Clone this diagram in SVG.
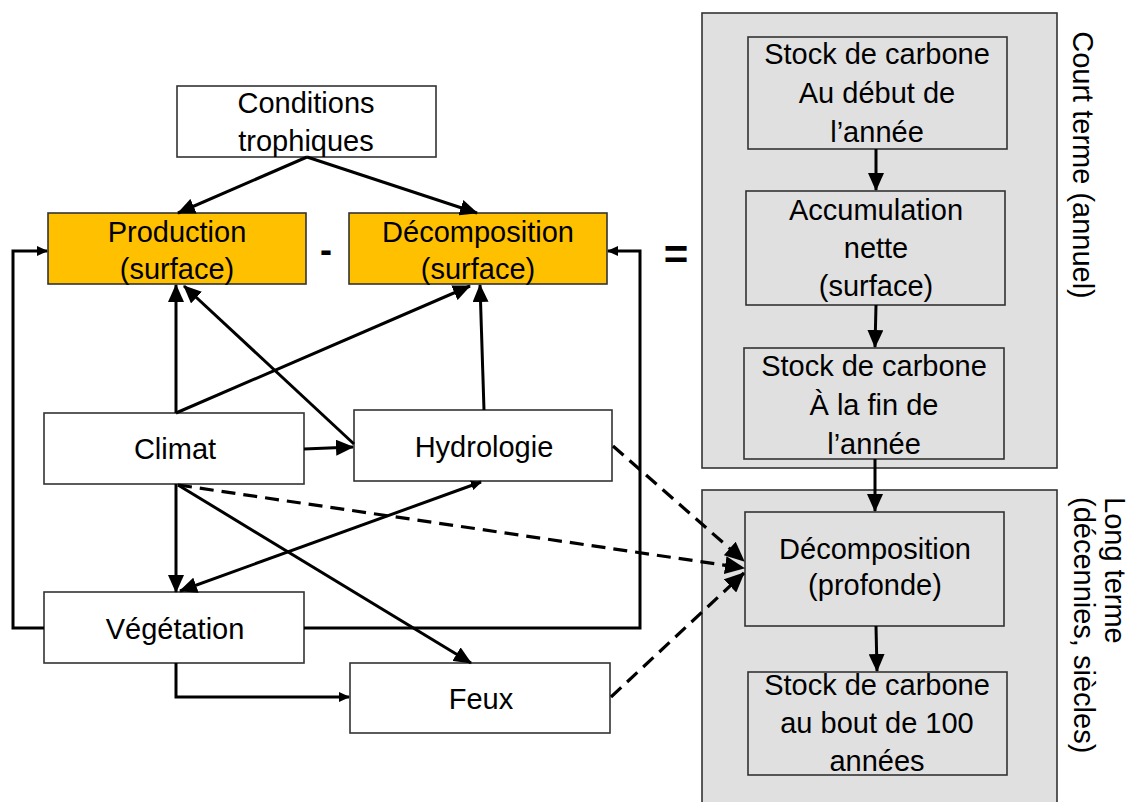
<svg xmlns="http://www.w3.org/2000/svg" width="1134" height="802" viewBox="0 0 1134 802">
<style>
  .t { font-family: "Liberation Sans", Arial, sans-serif; font-size: 29px; fill: #000; text-anchor: middle; }
  .box { fill: #fff; stroke: #333; stroke-width: 1.6; }
  .org { fill: #FFC000; stroke: #333; stroke-width: 1.6; }
  .gry { fill: #E0E0E0; stroke: #333; stroke-width: 1.6; }
  .c { fill: none; stroke: #000; stroke-width: 3; }
  .d { fill: none; stroke: #000; stroke-width: 3.2; stroke-dasharray: 14 8; }
  .op { font-family: "Liberation Sans", Arial, sans-serif; font-weight: bold; fill: #000; text-anchor: middle; }
</style>
<defs>
  <marker id="ah" viewBox="0 0 18 16" refX="17" refY="8" markerWidth="18" markerHeight="16" markerUnits="userSpaceOnUse" orient="auto"><path d="M0,0 L18,8 L0,16 z" fill="#000"/></marker>
  <marker id="as" viewBox="0 0 11 10" refX="10" refY="5" markerWidth="11" markerHeight="10" markerUnits="userSpaceOnUse" orient="auto"><path d="M0,0 L11,5 L0,10 z" fill="#000"/></marker>
  <marker id="asr" viewBox="0 0 11 10" refX="10" refY="5" markerWidth="11" markerHeight="10" markerUnits="userSpaceOnUse" orient="auto-start-reverse"><path d="M0,0 L11,5 L0,10 z" fill="#000"/></marker>
  <marker id="ad" viewBox="0 0 20 18" refX="19" refY="9" markerWidth="20" markerHeight="18" markerUnits="userSpaceOnUse" orient="auto"><path d="M0,0 L20,9 L0,18 z" fill="#000"/></marker>
</defs>

<g id="panel-court">
  <rect class="gry" x="702" y="13" width="355" height="455"/>
</g>
<g id="panel-long">
  <rect class="gry" x="702" y="490" width="355" height="320"/>
</g>

<g id="n-conditions">
  <rect class="box" x="177" y="86" width="259" height="71"/>
  <text class="t" x="306" y="113">Conditions</text>
  <text class="t" x="306" y="151">trophiques</text>
</g>
<g id="n-production">
  <rect class="org" x="48" y="213" width="258" height="71"/>
  <text class="t" x="177" y="242">Production</text>
  <text class="t" x="177" y="279">(surface)</text>
</g>
<g id="n-decomposition">
  <rect class="org" x="349" y="213" width="258" height="71"/>
  <text class="t" x="478" y="242">Décomposition</text>
  <text class="t" x="478" y="279">(surface)</text>
</g>
<g id="op-minus"><text class="op" x="326" y="262" font-size="36">-</text></g>
<g id="op-equal"><text class="op" x="676" y="269" font-size="42">=</text></g>

<g id="n-climat">
  <rect class="box" x="44" y="413" width="260" height="71"/>
  <text class="t" x="175" y="459">Climat</text>
</g>
<g id="n-hydrologie">
  <rect class="box" x="354" y="410" width="258" height="71"/>
  <text class="t" x="484" y="457">Hydrologie</text>
</g>
<g id="n-vegetation">
  <rect class="box" x="44" y="592" width="260" height="71"/>
  <text class="t" x="175" y="639">Végétation</text>
</g>
<g id="n-feux">
  <rect class="box" x="350" y="663" width="260" height="70"/>
  <text class="t" x="481" y="709">Feux</text>
</g>

<g id="n-stock-debut">
  <rect class="gry" x="748" y="37" width="259" height="112"/>
  <text class="t" x="877" y="64">Stock de carbone</text>
  <text class="t" x="877" y="103">Au début de</text>
  <text class="t" x="877" y="142">l’année</text>
</g>
<g id="n-accumulation">
  <rect class="gry" x="746" y="191" width="259" height="114"/>
  <text class="t" x="876" y="220">Accumulation</text>
  <text class="t" x="876" y="258">nette</text>
  <text class="t" x="876" y="296">(surface)</text>
</g>
<g id="n-stock-fin">
  <rect class="gry" x="744" y="348" width="260" height="111"/>
  <text class="t" x="874" y="376">Stock de carbone</text>
  <text class="t" x="874" y="415">À la fin de</text>
  <text class="t" x="874" y="454">l’année</text>
</g>
<g id="n-decomp-profonde">
  <rect class="gry" x="745" y="512" width="259" height="114"/>
  <text class="t" x="875" y="559">Décomposition</text>
  <text class="t" x="875" y="595">(profonde)</text>
</g>
<g id="n-stock-100">
  <rect class="gry" x="748" y="672" width="259" height="103"/>
  <text class="t" x="877" y="695">Stock de carbone</text>
  <text class="t" x="877" y="733">au bout de 100</text>
  <text class="t" x="877" y="771">années</text>
</g>

<g id="lbl-court">
  <text class="t" font-size="30" transform="translate(1073,165) rotate(90)" x="0" y="0">Court terme (annuel)</text>
</g>
<g id="lbl-long">
  <text class="t" font-size="30" style="text-anchor:start" transform="translate(1105,497) rotate(90)" x="0" y="0">Long terme</text>
  <text class="t" font-size="30" style="text-anchor:start" transform="translate(1074,497) rotate(90)" x="0" y="0">(décennies, siècles)</text>
</g>

<g id="connectors">
  <line class="c" x1="307" y1="157" x2="178" y2="213" marker-end="url(#ah)"/>
  <line class="c" x1="307" y1="157" x2="477" y2="213" marker-end="url(#ah)"/>
  <line class="c" x1="176" y1="413" x2="176" y2="285" marker-end="url(#ah)"/>
  <line class="c" x1="176" y1="413" x2="470" y2="286" marker-end="url(#ah)"/>
  <line class="c" x1="354" y1="444" x2="184" y2="286" marker-end="url(#ah)"/>
  <line class="c" x1="484" y1="410" x2="480" y2="285" marker-end="url(#ah)"/>
  <line class="c" x1="304" y1="449" x2="353" y2="447" marker-end="url(#ah)"/>
  <line class="c" x1="176" y1="484" x2="176" y2="592" marker-end="url(#ah)"/>
  <line class="c" x1="481" y1="482" x2="180" y2="591" marker-start="url(#asr)" marker-end="url(#ah)"/>
  <line class="c" x1="178" y1="485" x2="471" y2="663" marker-end="url(#ah)"/>
  <polyline class="c" points="176,663 176,697 349,697" marker-end="url(#as)"/>
  <polyline class="c" points="44,628 13,628 13,251 47,251" marker-end="url(#as)"/>
  <polyline class="c" points="304,628 640,628 640,251 608,251" marker-end="url(#as)"/>
  <line class="d" x1="613" y1="446" x2="744" y2="561" marker-end="url(#ad)"/>
  <line class="d" x1="178" y1="485" x2="744" y2="568" marker-end="url(#ad)"/>
  <line class="d" x1="611" y1="697" x2="744" y2="573" marker-end="url(#ad)"/>
  <line class="c" x1="876" y1="149" x2="876" y2="190" marker-end="url(#ah)"/>
  <line class="c" x1="876" y1="305" x2="875" y2="347" marker-end="url(#ah)"/>
  <line class="c" x1="875" y1="459" x2="875" y2="511" marker-end="url(#ah)"/>
  <line class="c" x1="876" y1="626" x2="877" y2="671" marker-end="url(#ah)"/>
</g>
</svg>
